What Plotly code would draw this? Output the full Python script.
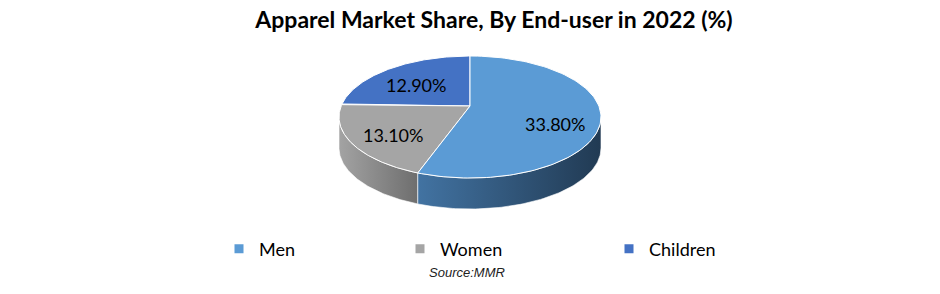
import numpy as np
import plotly.graph_objects as go

categories = ["Men", "Women", "Children"]
values = [33.80, 13.10, 12.90]
labels = ["33.80%", "13.10%", "12.90%"]
top_colors = ["#5b9bd5", "#a5a5a5", "#4472c4"]
side_colors = [["#4273a2", "#213a53"], ["#a3a3a3", "#6e6e6e"], ["#35599a", "#24406e"]]

# pie geometry in pixel units (apex raised to mimic perspective)
CX, CY, RX, RY, DEPTH = 470, 117, 131, 61, 31
APEX_Y = 106
LABEL_R = 0.66

total = sum(values)
fracs = [v / total for v in values]
starts = {}
a = 90.0
for name in ["Children", "Women", "Men"]:
    i = categories.index(name)
    span = fracs[i] * 360
    starts[name] = (a, a + span)
    a += span


def ell(t_deg, dy=0):
    t = np.radians(t_deg)
    return CX + RX * np.cos(t), CY - RY * np.sin(t) + dy


fig = go.Figure()

# side faces (front half: 180..360)
for name in ["Women", "Men", "Children"]:
    i = categories.index(name)
    a0, a1 = starts[name]
    lo, hi = max(a0, 180), min(a1, 360)
    if hi <= lo:
        continue
    ts = np.linspace(lo, hi, 80)
    xs_t, ys_t = ell(ts)
    xs_b, ys_b = ell(ts[::-1], DEPTH)
    xs = np.concatenate([xs_t, xs_b, xs_t[:1]])
    ys = np.concatenate([ys_t, ys_b, ys_t[:1]])
    fig.add_trace(go.Scatter(
        x=xs, y=ys, mode="lines", fill="toself",
        line=dict(color="rgba(255,255,255,0.6)", width=1),
        fillgradient=dict(type="horizontal",
                          colorscale=[[0, side_colors[i][0]], [1, side_colors[i][1]]]),
        showlegend=False, hoverinfo="skip"))

# top faces
for name in ["Children", "Women", "Men"]:
    i = categories.index(name)
    a0, a1 = starts[name]
    ts = np.linspace(a0, a1, 120)
    xs, ys = ell(ts)
    xs = np.concatenate([[CX], xs, [CX]])
    ys = np.concatenate([[APEX_Y], ys, [APEX_Y]])
    fig.add_trace(go.Scatter(
        x=xs, y=ys, mode="lines", fill="toself", fillcolor=top_colors[i],
        line=dict(color="white", width=1),
        showlegend=False, hoverinfo="skip", name=name))
    mx, my = ell((a0 + a1) / 2)
    fig.add_annotation(x=CX + LABEL_R * (mx - CX), y=APEX_Y + LABEL_R * (my - APEX_Y) + 3,
                       text=labels[i], showarrow=False,
                       font=dict(family="Lato", size=18, color="#000000"))

# legend entries
legend_x = [219, 400, 609]
for i, name in enumerate(categories):
    key = "legend" if i == 0 else f"legend{i + 1}"
    fig.add_trace(go.Scatter(
        x=[None], y=[None], mode="markers", name=name,
        marker=dict(symbol="square", size=9, color=top_colors[i]),
        legend=key))

legend_common = dict(xref="paper", yref="paper", y=1 - 249 / 294, yanchor="middle",
                     orientation="h", bgcolor="rgba(0,0,0,0)", itemwidth=30,
                     font=dict(family="Lato", size=18, color="#000000"))
fig.update_layout(
    legend=dict(x=legend_x[0] / 940, **legend_common),
    legend2=dict(x=legend_x[1] / 940, **legend_common),
    legend3=dict(x=legend_x[2] / 940, **legend_common),
)

fig.add_annotation(xref="x", yref="y", x=467, y=272, text="<i>Source:MMR</i>", showarrow=False,
                   font=dict(family="Liberation Sans", size=13, color="#222222"))

fig.update_layout(
    width=940, height=294,
    margin=dict(l=0, r=0, t=0, b=0, autoexpand=False),
    paper_bgcolor="white", plot_bgcolor="white",
    title=dict(text="<b>Apparel Market Share, By End-user in 2022 (%)</b>",
               x=494 / 940, xanchor="center", y=1 - 20 / 294, yanchor="middle",
               xref="paper", yref="paper",
               font=dict(family="Lato", size=23, color="#000000")),
    xaxis=dict(range=[0, 940], visible=False, fixedrange=True),
    yaxis=dict(range=[294, 0], visible=False, fixedrange=True),
)

fig.write_html("out.html")
